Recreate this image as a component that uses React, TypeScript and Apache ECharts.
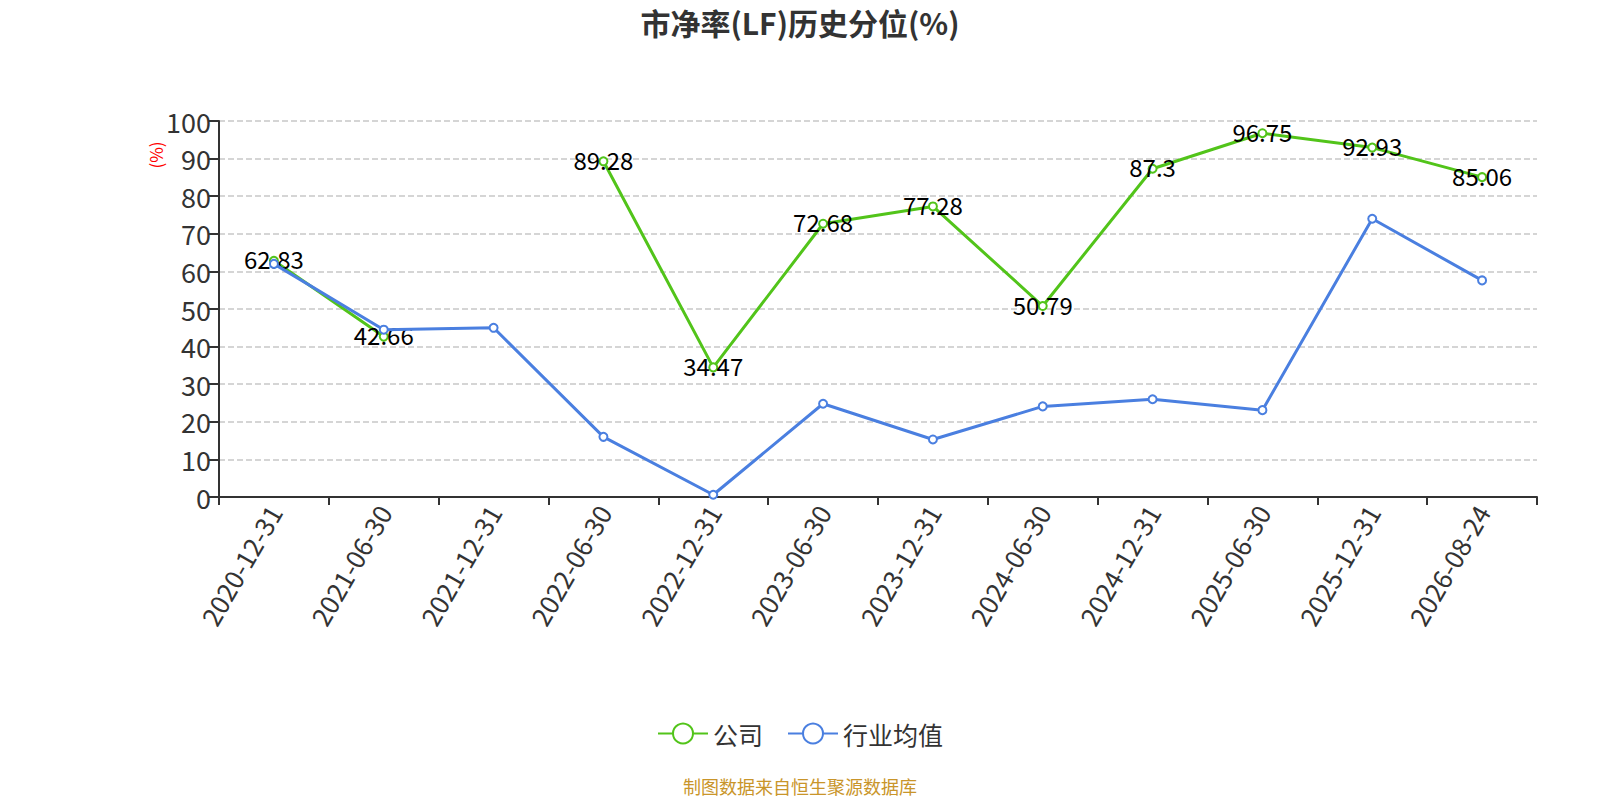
import React, { useEffect, useRef } from "react";
import * as echarts from "echarts";

const categories = [
  "2020-12-31", "2021-06-30", "2021-12-31", "2022-06-30", "2022-12-31", "2023-06-30",
  "2023-12-31", "2024-06-30", "2024-12-31", "2025-06-30", "2025-12-31", "2026-08-24",
];
const companyValues: (number | null)[] = [62.83, 42.66, null, 89.28, 34.47, 72.68, 77.28, 50.79, 87.3, 96.75, 92.93, 85.06];
const industryValues: number[] = [62.0, 44.5, 45.0, 16.0, 0.6, 24.8, 15.3, 24.1, 26.0, 23.1, 74.0, 57.6];
const seriesNames = ["公司", "行业均值"];
const titleText = "市净率(LF)历史分位(%)";
const sourceText = "制图数据来自恒生聚源数据库";

const FONT = "'Noto Sans CJK SC', 'Noto Sans', sans-serif";

export default function App() {
  const ref = useRef<HTMLDivElement>(null);
  useEffect(() => {
    document.body.style.margin = "0";
    if (!ref.current) return;
    const chart = echarts.init(ref.current, undefined, { renderer: "svg" });
    chart.setOption({
      animation: false,
      backgroundColor: "#ffffff",
      textStyle: { fontFamily: FONT },
      title: {
        text: titleText,
        left: "center",
        top: 2,
        textStyle: { fontSize: 30, fontWeight: "bold", color: "#333333", fontFamily: FONT },
      },
      legend: {
        data: seriesNames,
        left: "center",
        top: 716,
        itemWidth: 50,
        itemHeight: 25,
        itemGap: 24,
        textStyle: { fontSize: 25, color: "#333333", fontFamily: FONT },
      },
      grid: { left: 219, right: 63, top: 121, bottom: 303, containLabel: false },
      xAxis: {
        type: "category",
        data: categories,
        boundaryGap: true,
        axisLine: { lineStyle: { color: "#333333", width: 2 } },
        axisTick: { show: true, length: 8, lineStyle: { color: "#333333", width: 2 } },
        axisLabel: { rotate: 60, fontSize: 26, color: "#333333", margin: 10, fontFamily: FONT },
      },
      yAxis: {
        type: "value",
        min: 0,
        max: 100,
        interval: 10,
        axisLine: { show: true, lineStyle: { color: "#333333", width: 2 } },
        axisTick: { show: true, length: 10, lineStyle: { color: "#333333", width: 2 } },
        axisLabel: { fontSize: 27, color: "#333333", margin: 8, fontFamily: FONT },
        splitLine: { show: true, lineStyle: { type: "dashed", color: "#c8c8c8", width: 1.5 } },
      },
      graphic: [
        {
          type: "text",
          x: 155,
          y: 155,
          rotation: Math.PI / 2,
          style: {
            text: "(%)",
            fill: "#ff0000",
            fontSize: 17,
            fontFamily: FONT,
            align: "center",
            verticalAlign: "middle",
          },
        },
        {
          type: "text",
          x: 800,
          y: 786,
          style: {
            text: sourceText,
            fill: "#c9952a",
            fontSize: 18,
            fontFamily: FONT,
            align: "center",
            verticalAlign: "middle",
          },
        },
      ],
      series: [
        {
          name: seriesNames[0],
          type: "line",
          data: companyValues,
          connectNulls: false,
          symbol: "emptyCircle",
          symbolSize: 8,
          itemStyle: { color: "#52c41a" },
          lineStyle: { color: "#52c41a", width: 3 },
          label: {
            show: true,
            position: "inside",
            offset: [0, -2],
            fontSize: 24,
            color: "#000000",
            fontFamily: FONT,
          },
          z: 2,
        },
        {
          name: seriesNames[1],
          type: "line",
          data: industryValues,
          symbol: "emptyCircle",
          symbolSize: 8,
          itemStyle: { color: "#4a7fe0" },
          lineStyle: { color: "#4a7fe0", width: 3 },
          label: { show: false },
          z: 3,
        },
      ],
    });
    return () => chart.dispose();
  }, []);
  return <div ref={ref} style={{ width: 1600, height: 800 }} />;
}
